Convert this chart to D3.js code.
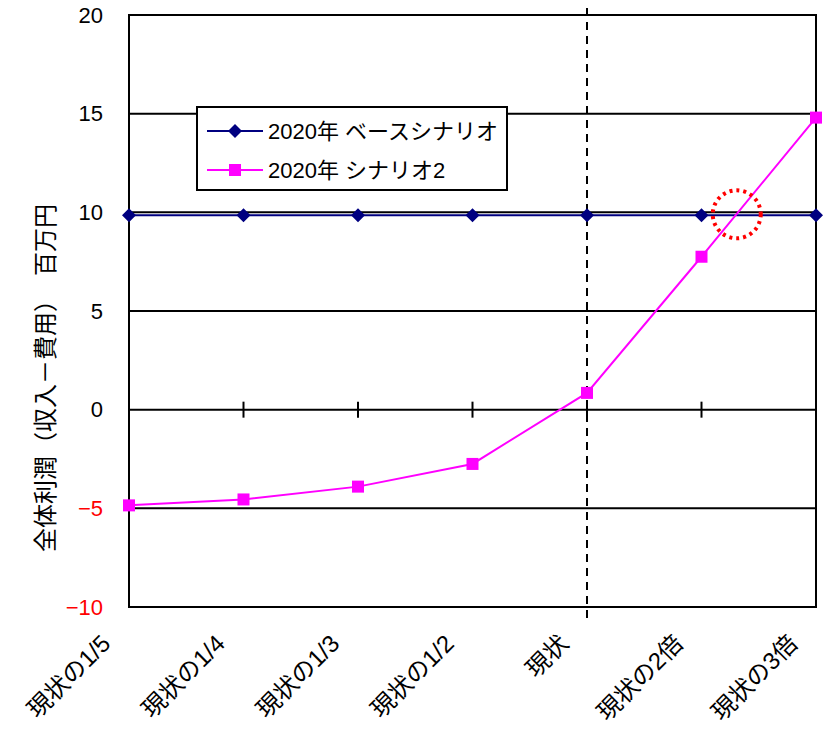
<!DOCTYPE html>
<html><head><meta charset="utf-8">
<script src="https://cdn.jsdelivr.net/npm/d3@7"></script>
<style>
body{margin:0;background:#fff;}
text{font-family:"Liberation Sans","Noto Sans CJK JP",sans-serif;}
</style></head>
<body><svg id="c" width="825" height="734"></svg>
<script>
const categories = ["現状の1/5","現状の1/4","現状の1/3","現状の1/2","現状","現状の2倍","現状の3倍"];
const baseValues = [9.85,9.85,9.85,9.85,9.85,9.85,9.85];
const scenario2Values = [-4.85,-4.55,-3.9,-2.75,0.85,7.75,14.8];
const seriesNames = ["2020年 ベースシナリオ","2020年 シナリオ2"];
const yTicks = [-10,-5,0,5,10,15,20];
const crossingValue = 9.85;

const svg = d3.select("#c");
const L=129, R=816, T=15, B=607;
const x = d3.scalePoint().domain(categories).range([L,R]);
const y = d3.scaleLinear().domain([-10,20]).range([B,T]);

// gridlines
svg.append("g").selectAll("line").data(yTicks.filter(v=>v!==0 && v!==-10 && v!==20)).join("line")
  .attr("x1",L).attr("x2",R).attr("y1",d=>y(d)).attr("y2",d=>y(d))
  .attr("stroke","#000").attr("stroke-width",2);

// frame
svg.append("rect").attr("x",L).attr("y",T).attr("width",R-L).attr("height",B-T)
  .attr("fill","none").attr("stroke","#000").attr("stroke-width",2);

// dashed vertical line at 現状
svg.append("line").attr("x1",x("現状")).attr("x2",x("現状")).attr("y1",T-7).attr("y2",B+14)
  .attr("stroke","#000").attr("stroke-width",2).attr("stroke-dasharray","8,6");

// zero axis with ticks
svg.append("line").attr("x1",L).attr("x2",R).attr("y1",y(0)).attr("y2",y(0)).attr("stroke","#000").attr("stroke-width",2);
svg.append("g").selectAll("line").data(categories.slice(1,6)).join("line")
  .attr("x1",d=>x(d)).attr("x2",d=>x(d)).attr("y1",y(0)-8).attr("y2",y(0)+8)
  .attr("stroke","#000").attr("stroke-width",2);

// y axis labels
const yAxis = d3.axisLeft(y).tickValues(yTicks).tickSize(0).tickPadding(26);
const gy = svg.append("g").attr("transform",`translate(${L},0)`).call(yAxis);
gy.select(".domain").remove();
gy.attr("font-size",null).attr("font-family",null);
gy.selectAll("text").style("font-size","22px").attr("fill",d=>d<0?"#ff0000":"#000")
  .text(d=>d<0?"\u2212"+Math.abs(d):d);

// y title
svg.append("text").attr("transform","translate(54,378) rotate(-90)").attr("text-anchor","middle")
  .style("font-size","24px").attr("fill","#000").text("全体利潤（収入－費用）　百万円");

// x labels
svg.append("g").selectAll("text").data(categories).join("text")
  .attr("transform",d=>`translate(${x(d)-17},${645}) rotate(-45)`)
  .attr("text-anchor","end").style("font-size","24px").attr("fill","#000").text(d=>d);

// lines
const lineGen = d3.line().x((d,i)=>x(categories[i])).y(d=>y(d));
svg.append("path").datum(baseValues).attr("d",lineGen).attr("fill","none").attr("stroke","#000080").attr("stroke-width",2);
svg.append("path").datum(scenario2Values).attr("d",lineGen).attr("fill","none").attr("stroke","#ff00ff").attr("stroke-width",2);

const diamond = "M0,-7L7,0L0,7L-7,0Z";
svg.append("g").selectAll("path").data(baseValues).join("path")
  .attr("transform",(d,i)=>`translate(${x(categories[i])},${y(d)})`)
  .attr("d",diamond).attr("fill","#000080");
svg.append("g").selectAll("rect").data(scenario2Values).join("rect")
  .attr("x",(d,i)=>x(categories[i])-6).attr("y",d=>y(d)-6).attr("width",12).attr("height",12)
  .attr("fill","#ff00ff");

// red dotted circle
svg.append("ellipse").attr("cx",(x("現状の2倍")+x("現状の3倍"))/2-22).attr("cy",y(crossingValue)-1)
  .attr("rx",24).attr("ry",24).attr("fill","none").attr("stroke","#ff0000")
  .attr("stroke-width",4).attr("stroke-dasharray","3,4");

// legend
const lg = svg.append("g").attr("transform","translate(197,107)");
lg.append("rect").attr("width",310).attr("height",83).attr("fill","#fff").attr("stroke","#000").attr("stroke-width",2);
[0,1].forEach(i=>{
  const yy = 24 + i*39;
  lg.append("line").attr("x1",10).attr("x2",66).attr("y1",yy).attr("y2",yy)
    .attr("stroke",i?"#ff00ff":"#000080").attr("stroke-width",2);
  if(i===0) lg.append("path").attr("transform",`translate(38,${yy})`).attr("d",diamond).attr("fill","#000080");
  else lg.append("rect").attr("x",32).attr("y",yy-6).attr("width",12).attr("height",12).attr("fill","#ff00ff");
  lg.append("text").attr("x",71).attr("y",yy+8).style("font-size","22px").attr("fill","#000").text(seriesNames[i]);
});
</script></body></html>
